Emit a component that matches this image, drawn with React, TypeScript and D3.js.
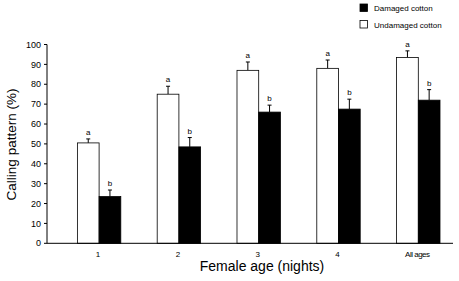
import React from "react";
import * as d3 from "d3";

const categories = ["1", "2", "3", "4", "All ages"];
const seriesNames = ["Undamaged cotton", "Damaged cotton"];
const undamaged = [50.5, 75, 87, 88, 93.5];
const undamagedErr = [2, 4, 4.2, 4.2, 3.3];
const damaged = [23.5, 48.5, 66, 67.5, 72];
const damagedErr = [3.3, 4.7, 3.5, 5, 5.3];
const undamagedLetters = ["a", "a", "a", "a", "a"];
const damagedLetters = ["b", "b", "b", "b", "b"];
const yTicks = [0, 10, 20, 30, 40, 50, 60, 70, 80, 90, 100];

const FONT = "'Liberation Sans', Arial, Helvetica, sans-serif";

export default function App() {
  const W = 459, H = 281;
  const y = d3.scaleLinear().domain([0, 100]).range([243.3, 44.5]);
  const x0 = d3.scaleBand<string>().domain(categories).range([59.2, 458.2]).paddingInner(0.456).paddingOuter(0.228);
  const x1 = d3.scaleBand<string>().domain(seriesNames).range([0, x0.bandwidth()]);
  const axisX = 47;
  const axisRight = 453;

  const series = [
    { name: seriesNames[0], vals: undamaged, err: undamagedErr, letters: undamagedLetters, fill: "#ffffff" },
    { name: seriesNames[1], vals: damaged, err: damagedErr, letters: damagedLetters, fill: "#000000" },
  ];

  return (
    <svg width={W} height={H} style={{ position: "absolute", left: 0, top: 0, background: "#fff" }} fontFamily={FONT}>
      <rect x={0} y={0} width={W} height={H} fill="#fff" />
      {series.map((s) =>
        categories.map((c, i) => {
          const bx = (x0(c) ?? 0) + (x1(s.name) ?? 0);
          const bw = x1.bandwidth();
          const top = y(s.vals[i]);
          const cap = y(s.vals[i] + s.err[i]);
          const cx = bx + bw / 2;
          return (
            <g key={s.name + c}>
              <line x1={cx} x2={cx} y1={top} y2={cap} stroke="#000" strokeWidth={1} />
              <line x1={cx - 2} x2={cx + 2} y1={cap} y2={cap} stroke="#000" strokeWidth={1} />
              <rect x={bx} y={top} width={bw} height={y(0) - top} fill={s.fill} stroke="#000" strokeWidth={0.8} />
              <text x={cx} y={cap - 4} fontSize={8} textAnchor="middle" fill="#000">{s.letters[i]}</text>
            </g>
          );
        })
      )}
      {/* y axis */}
      <line x1={axisX} x2={axisX} y1={y(100)} y2={y(0)} stroke="#000" strokeWidth={1} />
      {yTicks.map((t) => (
        <g key={t}>
          <line x1={axisX - 3} x2={axisX} y1={y(t)} y2={y(t)} stroke="#000" strokeWidth={1} />
          <text x={axisX - 6} y={y(t)} dy="0.35em" fontSize={9} textAnchor="end" fill="#000">{t}</text>
        </g>
      ))}
      {/* x axis */}
      <line x1={axisX} x2={axisRight} y1={y(0)} y2={y(0)} stroke="#000" strokeWidth={1} />
      {categories.map((c) => (
        <text key={c} x={(x0(c) ?? 0) + x0.bandwidth() / 2 - 1} y={257} fontSize={8} textAnchor="middle" fill="#000" letterSpacing={c.length > 1 ? -0.5 : 0}>{c}</text>
      ))}
      <text x={262} y={271} fontSize={14} textAnchor="middle" fill="#000">Female age (nights)</text>
      <text transform={`translate(16,144.5) rotate(-90)`} fontSize={13.5} textAnchor="middle" fill="#000">Calling pattern (%)</text>
      {/* legend */}
      <rect x={360} y={4} width={7.5} height={7.5} fill="#000" stroke="#000" strokeWidth={0.8} />
      <text x={374} y={11} fontSize={8} fill="#000">{seriesNames[1]}</text>
      <rect x={360} y={20.5} width={7.5} height={7.5} fill="#fff" stroke="#000" strokeWidth={0.8} />
      <text x={374} y={27.5} fontSize={8} fill="#000">{seriesNames[0]}</text>
    </svg>
  );
}
